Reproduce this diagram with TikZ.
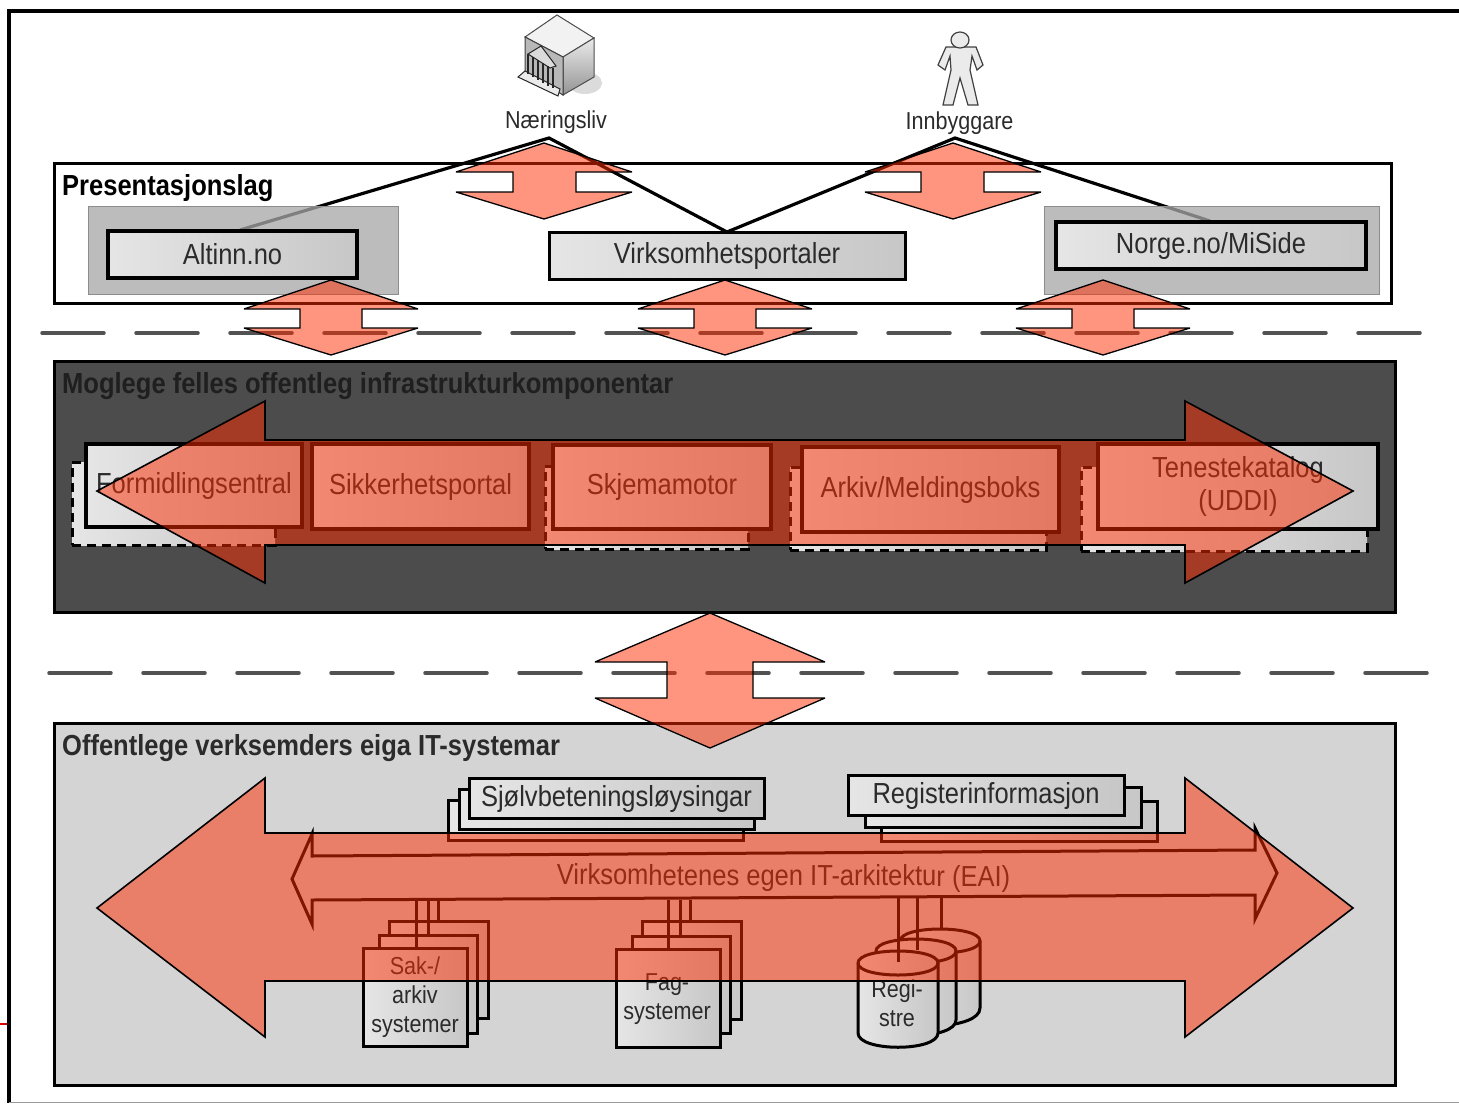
\documentclass[tikz,border=0pt]{standalone}
\usepackage{fontspec}
\setmainfont[FakeStretch=0.88]{Liberation Sans}
\usetikzlibrary{positioning}
\definecolor{flowred}{HTML}{FF2C00}
\definecolor{boxink}{HTML}{2B2B2B}
\tikzset{
    layerbox/.style={draw=black, line width=3pt, inner sep=0pt},
    panelbox/.style={draw=black!45, line width=1pt, fill=black!34, fill opacity=.76, inner sep=0pt},
    portalbox/.style={draw=black, line width=3.5pt, inner sep=0pt, left color=black!10, right color=black!22,
        text=boxink, font=\fontsize{29}{29}\selectfont},
    rearbox/.style={portalbox, line width=3pt},
    dashbox/.style={draw=black, line width=3pt, dash pattern=on 9pt off 6pt, left color=black!10, right color=black!22, inner sep=0pt},
    stackbox/.style={portalbox, line width=3pt, align=center, font=\fontsize{24.5}{29}\selectfont},
    titletext/.style={anchor=west, inner sep=0pt, font=\fontsize{29}{29}\selectfont\bfseries},
    actortext/.style={inner sep=0pt, text=boxink, font=\fontsize{24.5}{29}\selectfont},
    regtext/.style={inner sep=0pt, align=center, text=boxink, font=\fontsize{24.5}{29}\selectfont},
    flow/.style={draw=black, line width=1.3pt, fill=flowred, fill opacity=.5, line join=miter, miter limit=3},
    bigflow/.style={flow, line width=1.6pt},
    tierline/.style={draw=black!68, line width=3.5pt, dash pattern=on 62pt off 32pt, line cap=round},
    link/.style={draw=black, line width=3.2pt},
    eailink/.style={draw=black, line width=3pt},
}
\begin{document}
\begin{tikzpicture}[x=1pt,y=-1pt]
    \useasboundingbox (0,0) rectangle (1459,1103);
    \fill[white] (0,0) rectangle (1459,1103);
    % outer frame
    \draw[line width=3.5pt] (1459,11) -- (9,11) -- (9,1103);
    \draw[black!40, line width=1.5pt] (9,1102.5) -- (1459,1102.5);
    \draw[red!85!black, line width=2pt] (0,1023.5) -- (7,1023.5);

    % actors
    \fill[black!14] (585,83) ellipse (17pt and 11pt);
    \draw[black!70, fill=black!5, line width=1pt] (557,15) -- (594,38) -- (563,57) -- (525,37) -- cycle;
    \shade[top color=black!8, bottom color=black!42, draw=black!70, line width=1pt] (563,57) -- (594,38) -- (594,77) -- (563,95) -- cycle;
    \draw[black!75, fill=black!28, line width=1pt] (525,37) -- (563,57) -- (563,95) -- (525,72) -- cycle;
    \draw[black!85, fill=black!8, line width=1pt] (518,77) -- (525,71) -- (560,89) -- (558,96) -- cycle;
    \draw[black!85, fill=black!14, line width=1pt] (528,54) -- (541,46) -- (556,66) -- (550,68) -- cycle;
    \draw[black!85, line width=1.4pt] (528,54) -- (528,74) (533,57) -- (533,77) (538,60) -- (538,80) (543,63) -- (543,83) (548,66) -- (548,86) (553,68) -- (553,88);
    \node[actortext] (naering) at (556,122) {Næringsliv};

    \draw[black!75, fill=black!8, line width=1.2pt] (946,47) -- (976,47) -- (983,65) -- (977,70) -- (972,56) -- (970,70) -- (978,105) -- (968,105) -- (960,78) -- (953,105) -- (943,105) -- (951,70) -- (950,56) -- (945,70) -- (938,65) -- cycle;
    \draw[black!75, fill=black!8, line width=1.2pt] (960,40) ellipse (9pt and 8pt);
    \node[actortext] (innbyggar) at (959.5,123) {Innbyggare};

    % presentation layer
    \node[layerbox, minimum width=1337pt, minimum height=140pt] (preslayer) at (722.5,233) {};
    \node[titletext] (prestitle) at (62,188.5) {Presentasjonslag};
    \coordinate (apexnaering) at (549,138);
    \coordinate (apexinnbyggar) at (955,138);
    \coordinate (altinntop) at (240,230);
    \coordinate (norgetop) at (1210,221);
    \coordinate (virkapex) at (727,232);
    \draw[link] (altinntop) -- (apexnaering) -- (virkapex) -- (apexinnbyggar) -- (norgetop);
    \node[panelbox, minimum width=310pt, minimum height=88pt] (altinnpanel) at (243,250) {};
    \node[panelbox, minimum width=335pt, minimum height=88pt] (norgepanel) at (1211.5,250) {};
    \node[portalbox, minimum width=249pt, minimum height=47pt] (altinn) at (232.5,254.5) {Altinn.no};
    \node[portalbox, line width=3pt, minimum width=356pt, minimum height=47pt] (virk) at (727,255.5) {Virksomhetsportaler};
    \node[portalbox, minimum width=310pt, minimum height=47pt] (norge) at (1211,245.5) {Norge.no/MiSide};

    % separators
    \draw[tierline] (42,333) -- (1422,333);
    \draw[tierline] (49,673) -- (1429,673);

    % flows of the presentation layer
    \draw[flow] (544,143) -- (632,172) -- (576,172) -- (576,192) -- (632,192) -- (544,219) -- (456,192) -- (513,192) -- (513,172) -- (456,172) -- cycle;
    \draw[flow] (953,143) -- (1041,172) -- (984,172) -- (984,192) -- (1041,192) -- (953,219) -- (865,192) -- (921,192) -- (921,172) -- (865,172) -- cycle;
    \draw[flow] (331,280) -- (418,309) -- (362,309) -- (362,328) -- (418,328) -- (331,355) -- (244,328) -- (300,328) -- (300,309) -- (244,309) -- cycle;
    \draw[flow] (725,280) -- (812,309) -- (756,309) -- (756,328) -- (812,328) -- (725,355) -- (638,328) -- (694,328) -- (694,309) -- (638,309) -- cycle;
    \draw[flow] (1103,280) -- (1190,309) -- (1134,309) -- (1134,328) -- (1190,328) -- (1103,355) -- (1016,328) -- (1072,328) -- (1072,309) -- (1016,309) -- cycle;

    % infrastructure layer
    \node[layerbox, fill=black!70, minimum width=1341pt, minimum height=251pt] (infralayer) at (724.5,486.5) {};
    \node[titletext, text=black!88] (infratitle) at (62,386.5) {Moglege felles offentleg infrastrukturkomponentar};
    \node[dashbox, minimum width=203pt, minimum height=83pt] (formrear) at (173.5,503.5) {};
    \node[dashbox, minimum width=203pt, minimum height=83pt] (skjemarear) at (646.5,507.5) {};
    \node[dashbox, minimum width=256pt, minimum height=83pt] (arkivrear) at (918,508.5) {};
    \node[dashbox, minimum width=286pt, minimum height=84pt] (tenesterear) at (1224,509) {};
    \node[portalbox, minimum width=216pt, minimum height=83pt] (form) at (194,485.5) {Formidlingsentral};
    \node[portalbox, minimum width=217pt, minimum height=85pt] (sikkerhet) at (420.5,486.5) {Sikkerhetsportal};
    \node[portalbox, minimum width=218pt, minimum height=84pt] (skjema) at (662,487) {Skjemamotor};
    \node[portalbox, minimum width=257pt, minimum height=85pt] (arkiv) at (930.5,489.5) {Arkiv/Meldingsboks};
    \node[portalbox, minimum width=280pt, minimum height=85pt, align=center] (teneste) at (1238,486.5) {Tenestekatalog\\[4pt](UDDI)};
    \draw[bigflow] (97,491) -- (265,401) -- (265,440) -- (1185,440) -- (1185,401) -- (1353,491) -- (1185,583) -- (1185,545) -- (265,545) -- (265,583) -- cycle;

    % own systems layer
    \node[layerbox, fill=black!17, minimum width=1341pt, minimum height=362pt] (ownlayer) at (724.5,904) {};
    \node[titletext, text=boxink] (owntitle) at (62,748.5) {Offentlege verksemders eiga IT-systemar};

    \node[rearbox, minimum width=295pt, minimum height=40pt] (sjolv3) at (595.5,820.5) {};
    \node[rearbox, minimum width=295pt, minimum height=40pt] (sjolv2) at (606.5,809.5) {};
    \node[rearbox, minimum width=295pt, minimum height=40pt] (sjolv) at (616.5,798.5) {Sjølvbeteningsløysingar};
    \node[rearbox, minimum width=276pt, minimum height=40pt] (reginf3) at (1019,821) {};
    \node[rearbox, minimum width=276pt, minimum height=40pt] (reginf2) at (1003.5,807) {};
    \node[rearbox, minimum width=276pt, minimum height=40pt] (reginf) at (986,795.5) {Registerinformasjon};

    % links up to the EAI arrow
    \coordinate (eaisak1) at (416,900);
    \coordinate (eaisak2) at (428,900);
    \coordinate (eaisak3) at (438,900);
    \coordinate (eaifag1) at (668,900);
    \coordinate (eaifag2) at (680,900);
    \coordinate (eaifag3) at (690,900);
    \coordinate (eaireg1) at (898,897);
    \coordinate (eaireg2) at (917,897);
    \coordinate (eaireg3) at (941,897);

    \node[stackbox, minimum width=99pt, minimum height=97pt] (sak3) at (438.5,969.5) {};
    \node[stackbox, minimum width=98pt, minimum height=98pt] (sak2) at (428,984) {};
    \node[stackbox, minimum width=104pt, minimum height=98pt] (sak) at (415,997) {Sak-/\\arkiv\\systemer};
    \node[stackbox, minimum width=99pt, minimum height=98pt] (fag3) at (691.5,970) {};
    \node[stackbox, minimum width=98pt, minimum height=97pt] (fag2) at (681,984.5) {};
    \node[stackbox, minimum width=104pt, minimum height=98pt] (fag) at (668,998) {};
    \node[regtext] (fagtext) at (667,999) {Fag-\\systemer};
    \draw[eailink] (eaisak1) -- (eaisak1 |- sak.north);
    \draw[eailink] (eaisak2) -- (eaisak2 |- sak2.north);
    \draw[eailink] (eaisak3) -- (eaisak3 |- sak3.north);
    \draw[eailink] (eaifag1) -- (eaifag1 |- fag.north);
    \draw[eailink] (eaifag2) -- (eaifag2 |- fag2.north);
    \draw[eailink] (eaifag3) -- (eaifag3 |- fag3.north);

    % registers
    \coordinate (regtop3) at (941,928);
    \coordinate (regtop2) at (917,950);
    \coordinate (regtop1) at (898,962);
    \draw[eailink, left color=black!10, right color=black!22] (900,941) -- (900,1018) .. controls (900,1030) and (980,1030) .. (980,1008) -- (980,941) .. controls (980,925) and (900,925) .. (900,941) -- cycle;
    \draw[eailink] (900,941) .. controls (900,957) and (980,957) .. (980,941);
    \draw[eailink, left color=black!10, right color=black!22] (876,951) -- (876,1028) .. controls (876,1040) and (956,1040) .. (956,1020) -- (956,951) .. controls (956,935) and (876,935) .. (876,951) -- cycle;
    \draw[eailink] (876,951) .. controls (876,967) and (956,967) .. (956,951);
    \draw[eailink, left color=black!10, right color=black!22] (858,963) -- (858,1033) .. controls (858,1052) and (938,1052) .. (938,1033) -- (938,963) .. controls (938,947) and (858,947) .. (858,963) -- cycle;
    \draw[eailink] (858,963) .. controls (858,979) and (938,979) .. (938,963);
    \draw[eailink] (eaireg1) -- (regtop1);
    \draw[eailink] (eaireg2) -- (regtop2);
    \draw[eailink] (eaireg3) -- (regtop3);
    \node[regtext] (reg) at (897,1003) {Regi-\\stre};

    % EAI arrow
    \draw[eailink, fill=black!17] (292,879) -- (312,834) -- (312,856) -- (1255,850) -- (1255,828) -- (1277,873) -- (1255,919) -- (1255,895) -- (312,900) -- (312,924) -- cycle;
    \node[inner sep=0pt, text=boxink, rotate=-0.2, font=\fontsize{29}{29}\selectfont] (eai) at (783.5,878) {Virksomhetenes egen IT-arkitektur (EAI)};

    \draw[bigflow] (97,908) -- (265,778) -- (265,833) -- (1185,833) -- (1185,778) -- (1353,908) -- (1185,1037) -- (1185,981) -- (265,981) -- (265,1037) -- cycle;

    % flow between the two lower layers
    \draw[flow] (710,613) -- (825,662) -- (753,662) -- (753,698) -- (825,698) -- (710,748) -- (595,698) -- (667,698) -- (667,662) -- (595,662) -- cycle;
\end{tikzpicture}
\end{document}
